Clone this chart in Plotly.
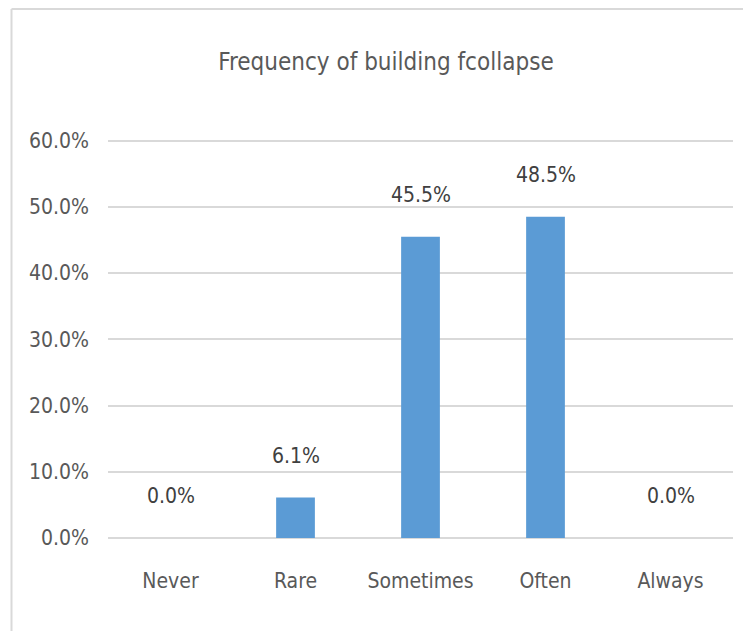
import plotly.graph_objects as go

categories = ["Never", "Rare", "Sometimes", "Often", "Always"]
values = [0.0, 6.1, 45.5, 48.5, 0.0]
y_ticks = [0, 10, 20, 30, 40, 50, 60]
y_tick_labels = ["0.0%", "10.0%", "20.0%", "30.0%", "40.0%", "50.0%", "60.0%"]
title_text = "Frequency of building fcollapse"

FONT = "Liberation Sans Narrow, DejaVu Sans Condensed, Arial Narrow, sans-serif"
TXT = "#595959"

fig = go.Figure()
fig.add_trace(go.Bar(
    x=categories, y=values,
    marker=dict(color="#5b9bd5", line=dict(width=0)),
    width=0.31,
    hoverinfo="skip",
))

for c, v in zip(categories, values):
    fig.add_annotation(
        x=c, y=v, text=f"{v:.1f}%", showarrow=False,
        yanchor="bottom", yshift=28,
        font=dict(family=FONT, size=21, color="#404040"),
    )

# page has an 8px body margin; figure coordinates are screen - 8
W, H = 743, 623
L, R, T, B = 100, 18, 126, 93
pw = W - L - R
ph = H - T - B

def px_x(px):
    return (px - L) / pw

def px_y(py):
    return (H - B - py) / ph

fig.add_shape(type="line", xref="paper", yref="paper",
              x0=px_x(3.5), x1=px_x(W), y0=px_y(1), y1=px_y(1),
              line=dict(color="#d9d9d9", width=2))
fig.add_shape(type="line", xref="paper", yref="paper",
              x0=px_x(3.5), x1=px_x(3.5), y0=px_y(1), y1=px_y(H),
              line=dict(color="#d9d9d9", width=2))

fig.update_layout(
    width=W, height=H,
    margin=dict(l=L, r=R, t=T, b=B),
    paper_bgcolor="white", plot_bgcolor="white",
    showlegend=False,
    title=dict(text=title_text, x=378 / W, xanchor="center",
               y=1 - 54 / H, yanchor="middle",
               font=dict(family=FONT, size=24, color=TXT)),
    bargap=0.69,
    xaxis=dict(
        showgrid=False, showline=False, zeroline=False, ticks="",
        tickfont=dict(family=FONT, size=21, color=TXT),
        ticklabelstandoff=28,
        fixedrange=True,
    ),
    yaxis=dict(
        range=[0, 61], tickvals=y_ticks, ticktext=y_tick_labels,
        showgrid=True, gridcolor="#d9d9d9", gridwidth=2,
        zeroline=True, zerolinecolor="#d9d9d9", zerolinewidth=2,
        showline=False, ticks="",
        tickfont=dict(family=FONT, size=21, color=TXT),
        ticklabelstandoff=18,
        fixedrange=True,
    ),
)

fig.write_html("out.html")
